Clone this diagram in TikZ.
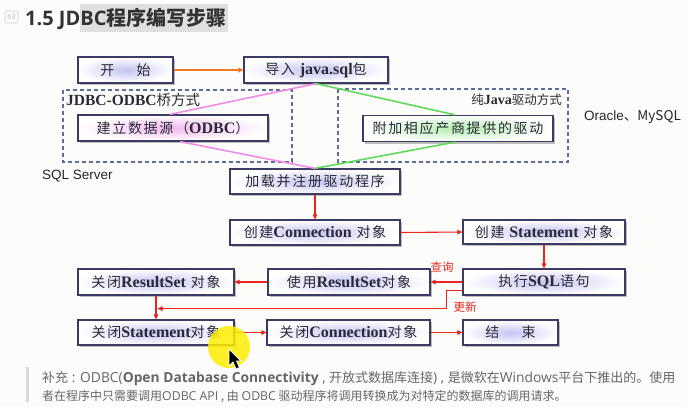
\documentclass[tikz,border=0pt]{standalone}
\usepackage{fontspec}
\setmainfont{Liberation Serif}
\newfontfamily\cjk{Noto Sans CJK SC}
\newfontfamily\cjkbox[LetterSpace=12]{Noto Sans CJK SC}
\newfontfamily\latb{Liberation Serif}
\newfontfamily\osans{Open Sans}
\newfontfamily\lsans{Liberation Sans}
\newcommand\lb[1]{{\latb\bfseries\fontsize{16}{16}\selectfont #1}}
\newcommand\os[1]{{\osans\fontsize{12.3}{12.3}\selectfont #1}}
\newcommand\osb[1]{{\osans\fontsize{13.8}{13.8}\selectfont #1}}
\usetikzlibrary{shadows,arrows.meta,calc}
\definecolor{pagebg}{HTML}{FCFCFA}
\definecolor{boxc}{HTML}{3B3B63}
\definecolor{txt}{HTML}{2A2A36}
\definecolor{dashc}{HTML}{5B6C9E}
\definecolor{arr}{HTML}{E8261F}
\definecolor{orng}{HTML}{F07A20}
\definecolor{pinkl}{HTML}{F08CE8}
\definecolor{greenl}{HTML}{5EDB5A}
\definecolor{glow}{HTML}{C4C4F2}
\definecolor{pglow}{HTML}{F2B8F0}
\definecolor{gglow}{HTML}{B4EDB0}
\definecolor{notec}{HTML}{666666}
\tikzset{
  box/.style={draw=boxc, line width=1.2pt, inner sep=0pt, text=txt,
    font=\cjkbox\fontsize{14}{14}\selectfont, inner color=glow, outer color=white,
    drop shadow={shadow xshift=2pt, shadow yshift=-2pt, fill=gray, opacity=0.5},
    minimum height=26pt},
  dbox/.style={draw=dashc, line width=1.4pt, dash pattern=on 4pt off 3pt},
  redarr/.style={draw=arr, line width=1.1pt, -{Triangle[length=5pt,width=4.5pt]}},
  lbl/.style={text=arr, font=\cjk\fontsize{11.5}{11.5}\selectfont, inner sep=0pt},
  note/.style={anchor=west, inner sep=0pt, text=notec, font=\cjk\fontsize{12}{12}\selectfont},
}
\begin{document}
\begin{tikzpicture}[x=1pt,y=-1pt]
\fill[pagebg] (0,0) rectangle (687,407);
\useasboundingbox (0,0) rectangle (687,407);
% header
\fill[gray!25] (80,4) rectangle (228,32);
\node[draw=gray!40, rounded corners=1.5pt, line width=0.6pt, minimum width=13pt, minimum height=12pt, inner sep=0pt, text=gray!60, font=\osans\fontsize{7}{7}\selectfont] (h3) at (11.5,17) {h3};
\node[anchor=west, inner sep=0pt, text=black!80, font=\fontsize{20}{20}\selectfont] (title) at (25,19) {{\osans\bfseries 1.5 JDBC}{\cjk\bfseries 程序编写步骤}};
% dashed groups
\draw[dbox] (63,90) rectangle (292,162);
\draw[dbox] (338,89) rectangle (568,162);
\node[anchor=west, inner sep=0pt, text=txt, font=\cjk\fontsize{14.5}{14.5}\selectfont] (g1) at (66,100) {{\latb\bfseries\fontsize{15.5}{15.5}\selectfont JDBC-ODBC}桥方式};
\node[anchor=east, inner sep=0pt, text=txt, font=\cjk\fontsize{12.5}{12.5}\selectfont] (g2) at (562,100) {纯{\latb\bfseries\fontsize{14}{14}\selectfont Java}驱动方式};
\node[anchor=west, inner sep=0pt, text=black!85, font=\lsans\fontsize{13.5}{13.5}\selectfont] (orc) at (584,117) {Oracle\cjk{、}MySQL};
\node[anchor=west, inner sep=0pt, text=black!85, font=\lsans\fontsize{13.5}{13.5}\selectfont] (sqls) at (42,176) {SQL Server};
% boxes
\node[box, minimum width=95pt] (start) at (125.5,70) {开\hspace{1.6em}始};
\node[box, minimum width=144pt] (imp) at (316,70) {导入 \lb{java.sql}包};
\node[box, minimum width=190pt, inner color=pglow] (odbc) at (173,128) {建立数据源（\lb{ODBC}）};
\node[box, minimum width=190pt, inner color=gglow] (vend) at (458,128.5) {附加相应产商提供的驱动};
\node[box, minimum width=170pt, minimum height=25pt] (load) at (315,181.5) {加载并注册驱动程序};
\node[box, minimum width=170pt, minimum height=25pt] (conn) at (315,232.5) {创建\lb{Connection} 对象};
\node[box, minimum width=162pt, minimum height=24pt] (stmt) at (544,232) {创建 \lb{Statement} 对象};
\node[box, minimum width=162pt] (exec) at (544,282) {执行\lb{SQL}语句};
\node[box, minimum width=162pt] (use) at (349,282) {使用\lb{ResultSet}对象};
\node[box, minimum width=156pt] (crs) at (156,282) {关闭\lb{ResultSet} 对象};
\node[box, minimum width=156pt, minimum height=25pt] (cst) at (156,332.5) {关闭\lb{Statement}对象};
\node[box, minimum width=163pt, minimum height=25pt] (ccn) at (348.5,332.5) {关闭\lb{Connection}对象};
\node[box, minimum width=95pt, minimum height=25pt] (fin) at (510.5,332.5) {结\hspace{1.6em}束};
% connectors
\draw[draw=orng, line width=1.2pt, -{Triangle[length=5pt,width=4.5pt]}] (start.east) -- (imp.west);
\draw[pinkl, line width=1.6pt] (imp.south) -- ([xshift=-3pt]odbc.north);
\draw[pinkl, line width=1.6pt] ([xshift=7pt]odbc.south) -- (load.north);
\draw[greenl, line width=1.6pt] (imp.south) -- ([xshift=-3pt]vend.north);
\draw[greenl, line width=1.6pt] ([xshift=-3pt]vend.south) -- (load.north);
\draw[redarr] (load.south) -- (conn.north);
\draw[redarr] (conn.east) -- (stmt.west);
\draw[redarr] (stmt.south) -- (exec.north);
\draw[redarr] (exec.west) -- (use.east);
\draw[redarr] (use.west) -- (crs.east);
\draw[redarr] (crs.south) -- (cst.north);
\coordinate (upd) at ($(crs.south)+(1.5,13)$);
\draw[redarr] ([yshift=5pt]exec.south west) -- ++(-16,0) |- (upd);
\draw[redarr] (cst.east) -- (ccn.west);
\draw[redarr] (ccn.east) -- (fin.west);
\node[lbl] (q) at (442,267) {查询};
\node[lbl] (u) at (465,307) {更新};
% note
\fill[gray!30] (26,367) rectangle (29,402);
\node[note, font=\cjk\fontsize{13}{13}\selectfont] (n1) at (42,379) {补充\osb{ : ODBC(}{\osans\bfseries\fontsize{13.8}{13.8}\selectfont Open Database Connectivity}\osb{ , }开放式数据库连接\osb{) , }是微软在\osb{Windows}平台下推出的。使用};
\node[note] (n2) at (42,397) {者在程序中只需要调用\os{ODBC API} , 由 \os{ODBC} 驱动程序将调用转换成为对特定的数据库的调用请求。};
% cursor highlight
\fill[yellow!95!orange, opacity=0.85] (229,347) circle (21);
\draw[white, line width=0.8pt, fill=black] (229,349) -- (229,366) -- (233,362) -- (236,369) -- (239.5,367.5) -- (236.5,361) -- (241,361) -- cycle;
\end{tikzpicture}
\end{document}
